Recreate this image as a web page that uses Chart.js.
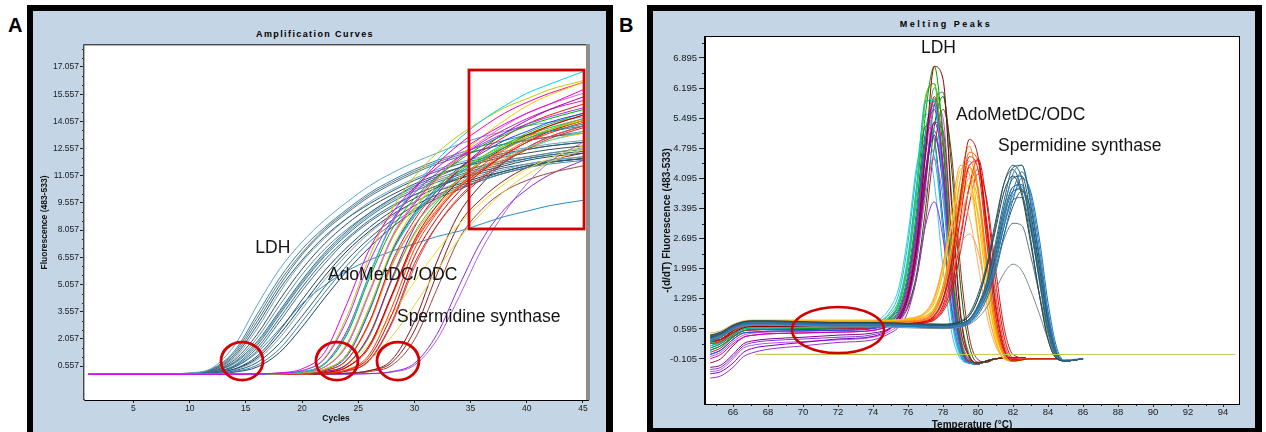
<!DOCTYPE html>
<html>
<head>
<meta charset="utf-8">
<script src="https://cdn.jsdelivr.net/npm/chart.js@4.4.1/dist/chart.umd.min.js"></script>
<style>
  html, body { margin: 0; padding: 0; background: #fff; }
  body { width: 1266px; height: 432px; overflow: hidden; position: relative; font-family: "Liberation Sans", Arial, sans-serif; }
  .frame { position: absolute; box-sizing: border-box; background: #c4d5e6; border-style: solid; border-color: #000; }
  #frameA { left: 27px; top: 5px; width: 586px; height: 450px; border-width: 6px 7px 6px 6px; }
  #frameB { left: 647px; top: 5px; width: 615px; height: 427px; border-width: 6px 7px 4px 6px; }
  canvas { position: absolute; }
  #amp { left: 33px; top: 11px; }
  #melt { left: 653px; top: 11px; }
  .letter { position: absolute; font-weight: bold; font-size: 20px; line-height: 20px; color: #000; }
  .ctitle { position: absolute; font-weight: bold; font-size: 9px; line-height: 10px; letter-spacing: 1.4px; white-space: nowrap; transform: translateX(-50%); color: #000; }
</style>
</head>
<body>
<div class="frame" id="frameA"></div>
<div class="frame" id="frameB"></div>
<div class="letter" style="left:8px;top:15px;">A</div>
<div class="letter" style="left:619px;top:15px;">B</div>
<div class="ctitle" style="left:315px;top:29px;">Amplification Curves</div>
<div class="ctitle" style="left:946px;top:19px;letter-spacing:2.5px;">Melting Peaks</div>
<canvas id="amp" width="573" height="421"></canvas>
<canvas id="melt" width="602" height="421"></canvas>
<script>
const FONT = '"Liberation Sans", Arial, sans-serif';

// ---------- Amplification curves (fluorescence 483-533 vs cycle) ----------
const ampCycles = [1, 6, 10, 12, 14, 16, 18, 20, 22, 24, 26, 28, 30, 32, 34, 36, 38, 40, 42, 45];
const ampXTicks = [5, 10, 15, 20, 25, 30, 35, 40, 45];
const ampYTicks = [0.557, 2.057, 3.557, 5.057, 6.557, 8.057, 9.557, 11.057, 12.557, 14.057, 15.557, 17.057];

const ldhAmp = [
  [0.1,0.1,0.18,0.45,1.7,3.9,5.9,7.4,8.6,9.6,10.5,11.2,11.8,12.3,12.8,13.2,13.5,13.8,14.0,14.3],
  [0.1,0.1,0.16,0.4,1.4,3.4,5.4,7.0,8.2,9.2,10.1,10.8,11.4,11.9,12.3,12.7,13.0,13.3,13.5,13.8],
  [0.1,0.1,0.15,0.35,1.2,3.0,5.0,6.7,8.0,9.0,9.9,10.6,11.2,11.7,12.1,12.5,12.8,13.0,13.2,13.4],
  [0.1,0.1,0.14,0.32,1.1,2.8,4.8,6.4,7.7,8.7,9.5,10.2,10.8,11.3,11.7,12.0,12.3,12.5,12.7,12.9],
  [0.1,0.1,0.14,0.3,1.0,2.6,4.6,6.3,7.6,8.7,9.6,10.3,10.9,11.4,11.8,12.1,12.4,12.6,12.8,13.0],
  [0.1,0.1,0.14,0.28,0.9,2.3,4.2,5.9,7.3,8.4,9.3,10.0,10.6,11.1,11.5,11.8,12.1,12.3,12.5,12.7],
  [0.1,0.1,0.13,0.26,0.75,1.9,3.6,5.3,6.8,8.0,9.0,9.8,10.5,11.0,11.5,11.9,12.2,12.5,12.7,12.9],
  [0.1,0.1,0.13,0.25,0.8,2.1,3.9,5.6,7.0,8.1,9.0,9.8,10.4,10.9,11.3,11.6,11.9,12.1,12.3,12.5],
  [0.1,0.1,0.12,0.22,0.6,1.7,3.4,5.1,6.6,7.8,8.8,9.6,10.2,10.7,11.1,11.5,11.8,12.0,12.2,12.4],
  [0.1,0.1,0.12,0.2,0.5,1.4,3.0,4.7,6.2,7.5,8.5,9.3,10.0,10.5,11.0,11.4,11.7,12.0,12.2,12.4],
  [0.1,0.1,0.12,0.18,0.4,1.1,2.5,4.2,5.8,7.1,8.2,9.1,9.8,10.4,10.9,11.3,11.6,11.9,12.1,12.3],
  [0.1,0.1,0.11,0.16,0.35,0.9,2.1,3.7,5.3,6.7,7.9,8.8,9.6,10.2,10.7,11.1,11.4,11.7,11.9,12.1],
  [0.1,0.1,0.11,0.15,0.3,0.75,1.8,3.3,4.9,6.4,7.6,8.6,9.4,10.0,10.5,10.9,11.3,11.6,11.8,12.0],
  [0.1,0.1,0.11,0.14,0.25,0.6,1.5,3.0,4.6,6.1,7.4,8.4,9.2,9.9,10.4,10.8,11.2,11.5,11.7,11.9],
  [0.1,0.1,0.1,0.13,0.22,0.5,1.3,2.7,4.3,5.8,7.1,8.2,9.1,9.8,10.3,10.8,11.2,11.5,11.8,12.0],
  [0.1,0.1,0.12,0.2,0.5,1.3,2.6,4.0,5.0,5.8,6.4,6.9,7.3,7.7,8.0,8.4,8.8,9.1,9.4,9.7],
  [0.1,0.1,0.15,0.38,1.3,3.2,5.2,6.8,8.1,9.1,10.0,10.7,11.3,11.8,12.2,12.5,12.8,13.0,13.2,13.5],
  [0.1,0.1,0.12,0.21,0.55,1.55,3.2,4.9,6.4,7.6,8.6,9.4,10.0,10.5,10.9,11.2,11.5,11.7,11.9,12.1],
  [0.1,0.1,0.13,0.24,0.7,1.8,3.5,5.2,6.7,7.9,8.9,9.7,10.3,10.8,11.2,11.6,11.9,12.1,12.3,12.6],
  [0.1,0.1,0.11,0.17,0.38,1.0,2.3,3.9,5.5,6.9,8.0,8.9,9.6,10.2,10.6,11.0,11.3,11.6,11.8,12.0]
];
const ldhAmpColors = ['#5aa7cf','#3b7fa6','#4f6f7a','#2d5d73','#6f9fb8','#33505c','#1f6e9c','#5f8d9c',
  '#2a6f96','#46707e','#1b4f6a','#7fa3b5','#2b5a6c','#3d86b3','#26485a','#2f8ac4',
  '#557f8f','#2d6a85','#6e8f99','#183f52'];

const odcAmp = [
  [0.1,0.1,0.1,0.1,0.1,0.12,0.18,0.4,1.3,4.0,7.0,9.0,10.4,11.5,12.4,13.2,13.9,14.5,15.0,15.8],
  [0.1,0.1,0.1,0.1,0.1,0.11,0.16,0.3,0.95,3.1,6.3,8.6,10.1,11.2,12.1,12.8,13.4,13.9,14.3,14.8],
  [0.1,0.1,0.1,0.1,0.1,0.11,0.15,0.24,0.7,2.4,5.6,8.5,10.4,11.9,13.1,14.1,14.9,15.6,16.1,16.8],
  [0.1,0.1,0.1,0.1,0.1,0.11,0.15,0.23,0.65,2.3,5.4,8.1,9.8,11.0,11.9,12.7,13.3,13.8,14.2,14.7],
  [0.1,0.1,0.1,0.1,0.1,0.1,0.14,0.2,0.5,1.7,4.6,7.7,9.6,11.0,12.1,13.0,13.8,14.5,15.0,15.6],
  [0.1,0.1,0.1,0.1,0.1,0.1,0.14,0.2,0.5,1.8,4.7,7.6,9.3,10.5,11.4,12.1,12.7,13.2,13.6,14.1],
  [0.1,0.1,0.1,0.1,0.1,0.1,0.13,0.18,0.38,1.2,3.8,7.0,9.2,10.8,12.1,13.2,14.1,14.9,15.5,16.2],
  [0.1,0.1,0.1,0.1,0.1,0.1,0.13,0.18,0.36,1.2,3.7,6.8,8.8,10.2,11.2,12.0,12.6,13.1,13.5,13.9],
  [0.1,0.1,0.1,0.1,0.1,0.1,0.13,0.18,0.36,1.1,3.6,6.9,9.0,10.4,11.5,12.3,13.0,13.5,14.0,14.5],
  [0.1,0.1,0.1,0.1,0.1,0.1,0.12,0.16,0.3,0.9,3.0,6.3,8.6,10.2,11.4,12.4,13.2,13.9,14.4,15.0],
  [0.1,0.1,0.1,0.1,0.1,0.1,0.12,0.16,0.3,0.9,2.9,6.1,8.3,9.8,10.9,11.8,12.5,13.1,13.6,14.2],
  [0.1,0.1,0.1,0.1,0.1,0.1,0.12,0.15,0.25,0.65,2.3,5.4,8.2,10.0,11.4,12.5,13.4,14.1,14.7,15.4],
  [0.1,0.1,0.1,0.1,0.1,0.1,0.12,0.15,0.25,0.65,2.2,5.3,7.9,9.6,10.9,11.9,12.7,13.4,13.9,14.5],
  [0.1,0.1,0.1,0.1,0.1,0.1,0.11,0.14,0.2,0.5,1.7,4.5,7.5,9.4,10.8,11.8,12.6,13.3,13.8,14.4],
  [0.1,0.1,0.1,0.1,0.1,0.1,0.11,0.14,0.2,0.5,1.6,4.4,7.3,9.1,10.4,11.4,12.2,12.9,13.4,14.0],
  [0.1,0.1,0.1,0.1,0.1,0.1,0.11,0.13,0.18,0.35,1.2,3.8,7.0,9.0,10.5,11.6,12.5,13.2,13.8,14.4],
  [0.1,0.1,0.1,0.1,0.1,0.1,0.11,0.13,0.17,0.32,1.05,3.4,6.6,8.7,10.2,11.3,12.2,12.9,13.5,14.1],
  [0.1,0.1,0.1,0.1,0.1,0.11,0.15,0.24,0.7,2.5,5.6,8.4,10.3,11.7,12.8,13.7,14.5,15.1,15.6,16.2],
  [0.1,0.1,0.1,0.1,0.1,0.11,0.16,0.3,1.0,3.3,6.6,9.2,11.0,12.3,13.3,14.1,14.8,15.3,15.8,16.3],
  [0.1,0.1,0.1,0.1,0.1,0.1,0.12,0.16,0.3,0.9,3.0,6.2,8.3,9.7,10.7,11.5,12.1,12.6,13.0,13.5],
  [0.1,0.1,0.1,0.1,0.1,0.1,0.11,0.14,0.18,0.28,0.9,3.0,6.2,8.3,9.8,10.9,11.8,12.5,13.1,13.7],
  [0.1,0.1,0.1,0.1,0.1,0.1,0.12,0.15,0.25,0.65,2.3,5.3,7.8,9.4,10.5,11.3,12.0,12.5,13.0,13.4],
  [0.1,0.1,0.1,0.1,0.1,0.1,0.11,0.14,0.22,0.6,1.8,3.4,5.2,6.9,8.4,9.6,10.6,11.4,12.0,12.7],
  [0.1,0.1,0.1,0.1,0.1,0.1,0.1,0.12,0.18,0.35,0.9,2.2,3.9,5.8,7.6,9.0,10.2,11.1,11.8,12.5],
  [0.1,0.1,0.1,0.1,0.1,0.1,0.11,0.13,0.16,0.28,0.85,2.9,6.0,8.3,9.9,11.0,11.9,12.6,13.2,13.8],
  [0.1,0.1,0.1,0.1,0.1,0.1,0.13,0.18,0.37,1.2,3.8,6.9,8.9,10.3,11.3,12.1,12.8,13.3,13.7,14.2],
  [0.1,0.1,0.1,0.1,0.1,0.1,0.14,0.2,0.5,1.7,4.6,7.6,9.5,10.9,12.0,12.9,13.6,14.2,14.7,15.2],
  [0.1,0.1,0.1,0.1,0.1,0.1,0.11,0.14,0.2,0.5,1.7,4.5,7.4,9.2,10.5,11.5,12.3,13.0,13.5,14.1]
];
const odcAmpColors = ['#e600e6','#9b30ff','#00d8e8','#00b000','#ff5cc8','#7fdc00','#f0d000','#00a0a0',
  '#2040ff','#ff1010','#ff8000','#a000c0','#30c030','#c00000','#ff2020','#ff4000',
  '#e00000','#ff00a0','#c8c800','#40e0d0','#b03030','#ffa000','#f2e030','#e8d44a',
  '#ff4040','#00c060','#d020a0','#ff7020'];

const spdAmp = [
  [0.1,0.1,0.1,0.1,0.1,0.1,0.1,0.11,0.13,0.16,0.3,0.75,2.5,5.6,8.4,9.8,10.8,11.5,11.9,12.3],
  [0.1,0.1,0.1,0.1,0.1,0.1,0.1,0.1,0.12,0.14,0.25,0.6,2.0,4.8,7.6,9.2,10.2,10.8,11.2,11.6],
  [0.1,0.1,0.1,0.1,0.1,0.1,0.1,0.11,0.13,0.16,0.3,0.9,3.0,6.3,9.0,10.6,11.8,12.6,13.2,13.8],
  [0.1,0.1,0.1,0.1,0.1,0.1,0.1,0.1,0.1,0.11,0.14,0.25,0.7,2.3,5.0,7.5,9.2,10.3,11.1,11.9],
  [0.1,0.1,0.1,0.1,0.1,0.1,0.1,0.1,0.1,0.11,0.13,0.22,0.6,2.0,4.4,7.0,9.0,10.6,11.8,12.9]
];
const spdAmpColors = ['#8b2020','#9a4a3a','#7a1a1a','#8a2be2','#b060e0'];

// ---------- Melting peaks (-(d/dT) fluorescence vs temperature) ----------
const meltXTicks = [66, 68, 70, 72, 74, 76, 78, 80, 82, 84, 86, 88, 90, 92, 94];
const meltYTicks = [-0.105, 0.595, 1.295, 1.995, 2.695, 3.395, 4.095, 4.795, 5.495, 6.195, 6.895];

const ldhTemps = [64.7,65.3,66,66.6,67.2,68,70,72,74,75,75.5,76,76.5,77,77.5,78,78.5,79,79.5,80,80.5,81,82,82.7];
const ldhMelt = [
  [0.3,0.35,0.5,0.62,0.65,0.65,0.65,0.66,0.68,0.75,0.9,1.4,2.6,4.7,6.7,6.4,3.4,0.9,-0.05,-0.2,-0.15,-0.1,-0.08,-0.08],
  [0.1,0.2,0.4,0.55,0.58,0.58,0.6,0.62,0.66,0.85,1.1,1.9,3.4,5.6,6.7,5.0,2.0,0.3,-0.15,-0.2,-0.15,-0.1,-0.08,-0.08],
  [0.2,0.3,0.5,0.6,0.62,0.62,0.62,0.64,0.7,0.95,1.3,2.3,4.0,5.9,5.9,3.9,1.3,0.1,-0.2,-0.22,-0.15,-0.1,-0.08,-0.08],
  [-0.1,0.0,0.25,0.4,0.45,0.48,0.5,0.52,0.56,0.72,0.95,1.6,2.9,4.8,5.9,4.4,1.7,0.2,-0.18,-0.22,-0.15,-0.1,-0.08,-0.08],
  [-0.45,-0.4,-0.2,0.05,0.15,0.2,0.28,0.36,0.42,0.6,0.8,1.3,2.4,4.2,5.4,4.4,1.9,0.3,-0.15,-0.22,-0.15,-0.1,-0.08,-0.08],
  [-0.55,-0.5,-0.3,-0.05,0.05,0.12,0.2,0.28,0.34,0.5,0.65,1.0,1.8,3.0,3.55,2.7,1.1,0.1,-0.2,-0.22,-0.15,-0.1,-0.08,-0.08],
  [0.0,0.1,0.35,0.5,0.52,0.54,0.55,0.56,0.6,0.78,1.0,1.7,3.1,5.0,5.7,4.1,1.5,0.15,-0.2,-0.22,-0.15,-0.1,-0.08,-0.08],
  [0.25,0.3,0.5,0.62,0.64,0.64,0.64,0.65,0.7,0.9,1.25,2.2,3.9,6.0,6.3,4.4,1.6,0.15,-0.2,-0.22,-0.15,-0.1,-0.08,-0.08],
  [0.05,0.15,0.4,0.55,0.57,0.58,0.58,0.6,0.62,0.75,0.9,1.5,2.7,4.6,6.0,4.8,2.0,0.35,-0.12,-0.2,-0.15,-0.1,-0.08,-0.08],
  [0.15,0.25,0.45,0.6,0.62,0.62,0.62,0.62,0.66,0.82,1.05,1.8,3.2,5.2,5.8,4.0,1.4,0.1,-0.2,-0.22,-0.15,-0.1,-0.08,-0.08],
  [-0.3,-0.25,0.0,0.25,0.32,0.36,0.4,0.45,0.5,0.62,0.82,1.35,2.5,4.2,5.1,3.9,1.5,0.2,-0.18,-0.22,-0.15,-0.1,-0.08,-0.08],
  [0.1,0.2,0.4,0.55,0.58,0.58,0.6,0.6,0.66,0.9,1.2,2.1,3.6,4.9,4.6,2.9,0.9,0.0,-0.2,-0.22,-0.15,-0.1,-0.08,-0.08],
  [0.3,0.35,0.55,0.65,0.67,0.67,0.67,0.68,0.7,0.8,0.95,1.5,2.8,4.8,6.2,5.2,2.3,0.45,-0.1,-0.2,-0.15,-0.1,-0.08,-0.08],
  [-0.4,-0.35,-0.1,0.15,0.22,0.26,0.3,0.34,0.4,0.55,0.72,1.2,2.2,3.7,4.55,3.6,1.4,0.2,-0.15,-0.2,-0.15,-0.1,-0.08,-0.08],
  [0.2,0.28,0.48,0.6,0.62,0.62,0.62,0.63,0.67,0.8,1.0,1.7,3.0,5.0,5.95,4.3,1.6,0.2,-0.18,-0.22,-0.15,-0.1,-0.08,-0.08],
  [-0.2,-0.1,0.2,0.4,0.45,0.48,0.5,0.52,0.56,0.68,0.82,1.3,2.3,4.0,5.4,5.2,2.6,0.6,-0.05,-0.2,-0.15,-0.1,-0.08,-0.08],
  [0.2,0.28,0.48,0.6,0.62,0.62,0.62,0.64,0.72,1.0,1.45,2.6,4.3,5.6,5.0,2.9,0.8,-0.05,-0.2,-0.22,-0.15,-0.1,-0.08,-0.08],
  [0.15,0.25,0.45,0.58,0.6,0.6,0.62,0.65,0.75,1.1,1.6,2.8,4.4,5.0,4.0,2.0,0.5,-0.1,-0.2,-0.22,-0.15,-0.1,-0.08,-0.08],
  [0.25,0.3,0.5,0.6,0.62,0.62,0.62,0.63,0.65,0.72,0.82,1.15,1.9,3.4,5.3,6.0,4.3,1.6,0.2,-0.18,-0.18,-0.1,-0.08,-0.08],
  [0.1,0.2,0.42,0.55,0.57,0.58,0.58,0.6,0.62,0.7,0.8,1.1,1.8,3.1,4.8,5.7,4.6,2.0,0.4,-0.12,-0.18,-0.1,-0.08,-0.08],
  [0.3,0.35,0.55,0.64,0.66,0.66,0.66,0.67,0.7,0.88,1.2,2.1,3.8,5.9,6.3,4.2,1.5,0.1,-0.2,-0.22,-0.15,-0.1,-0.08,-0.08],
  [-0.35,-0.3,-0.05,0.2,0.28,0.32,0.36,0.4,0.46,0.62,0.85,1.45,2.6,4.3,5.2,4.0,1.5,0.15,-0.18,-0.22,-0.15,-0.1,-0.08,-0.08],
  [-0.05,0.05,0.3,0.45,0.5,0.52,0.54,0.56,0.6,0.7,0.85,1.3,2.3,4.1,5.8,5.5,2.7,0.6,-0.05,-0.2,-0.15,-0.1,-0.08,-0.08],
  [0.0,0.1,0.35,0.5,0.52,0.54,0.55,0.57,0.62,0.85,1.2,2.2,3.9,5.3,5.0,3.1,1.0,0.0,-0.2,-0.22,-0.15,-0.1,-0.08,-0.08],
  [0.28,0.33,0.52,0.63,0.65,0.65,0.65,0.66,0.68,0.76,0.88,1.3,2.2,3.9,5.8,6.1,3.6,1.0,0.0,-0.2,-0.15,-0.1,-0.08,-0.08]
];
const ldhMeltColors = ['#8b0000','#00a000','#00c8d8','#d000d0','#8000c0','#9932cc','#2050e0','#60d000',
  '#c0104a','#008080','#8b008b','#30a0ff','#20b050','#c050e0','#80a000','#a01030',
  '#00d0a0','#40c0ff','#006400','#b22222','#40a040','#7b3fd0','#e040e0','#1040c0','#3a7d3a'];

const odcTemps = [64.7,65.3,66,66.6,67.2,68,70,72,74,76,77,77.5,78,78.5,79,79.5,80,80.5,81,81.5,82,83,84.5];
const odcMelt = [
  [0.3,0.35,0.55,0.68,0.7,0.7,0.7,0.7,0.7,0.72,0.78,0.9,1.3,2.2,3.7,5.0,4.6,2.9,1.1,0.1,-0.15,-0.1,-0.1],
  [0.4,0.45,0.62,0.74,0.76,0.76,0.76,0.76,0.76,0.78,0.85,1.05,1.6,2.7,4.1,4.85,3.8,2.0,0.6,-0.05,-0.15,-0.1,-0.1],
  [0.3,0.36,0.55,0.68,0.7,0.7,0.7,0.7,0.7,0.72,0.76,0.85,1.15,1.9,3.2,4.4,4.5,3.0,1.2,0.15,-0.12,-0.1,-0.1],
  [0.4,0.45,0.65,0.76,0.78,0.78,0.78,0.78,0.78,0.82,0.95,1.2,1.9,3.1,4.3,4.4,3.2,1.6,0.4,-0.1,-0.15,-0.1,-0.1],
  [0.35,0.4,0.6,0.72,0.74,0.74,0.74,0.74,0.74,0.76,0.82,0.98,1.45,2.4,3.6,4.35,3.8,2.2,0.75,0.0,-0.15,-0.1,-0.1],
  [0.45,0.5,0.66,0.76,0.78,0.78,0.78,0.78,0.78,0.8,0.88,1.05,1.5,2.3,3.4,4.1,3.6,2.1,0.7,0.0,-0.15,-0.1,-0.1],
  [0.25,0.3,0.5,0.65,0.68,0.68,0.68,0.68,0.68,0.7,0.75,0.88,1.25,2.1,3.5,4.6,4.3,2.6,0.9,0.05,-0.15,-0.1,-0.1],
  [0.42,0.48,0.65,0.75,0.77,0.77,0.77,0.77,0.77,0.8,0.9,1.1,1.6,2.5,3.5,3.95,3.2,1.7,0.5,-0.05,-0.15,-0.1,-0.1],
  [0.4,0.45,0.6,0.7,0.72,0.72,0.72,0.72,0.72,0.74,0.8,0.95,1.3,1.9,2.55,2.8,2.4,1.4,0.5,0.0,-0.12,-0.1,-0.1],
  [0.38,0.43,0.62,0.73,0.75,0.75,0.75,0.75,0.75,0.77,0.84,1.0,1.5,2.5,3.8,4.5,3.9,2.2,0.7,0.0,-0.15,-0.1,-0.1],
  [0.5,0.55,0.7,0.78,0.8,0.8,0.8,0.8,0.8,0.82,0.9,1.05,1.45,2.2,3.1,3.75,3.3,1.9,0.6,0.0,-0.12,-0.1,-0.1],
  [0.3,0.35,0.55,0.68,0.7,0.7,0.7,0.7,0.7,0.72,0.76,0.84,1.1,1.7,2.8,3.9,4.3,3.1,1.4,0.25,-0.1,-0.1,-0.1],
  [0.4,0.45,0.64,0.75,0.77,0.77,0.77,0.77,0.77,0.82,0.98,1.3,2.1,3.4,4.4,4.2,2.8,1.2,0.3,-0.1,-0.15,-0.1,-0.1],
  [0.3,0.35,0.55,0.68,0.7,0.7,0.7,0.7,0.7,0.72,0.75,0.82,1.05,1.6,2.7,3.9,4.55,3.5,1.7,0.4,-0.08,-0.1,-0.1],
  [0.45,0.5,0.66,0.76,0.78,0.78,0.78,0.78,0.78,0.82,0.96,1.25,1.95,3.05,3.95,3.9,2.7,1.2,0.3,-0.1,-0.15,-0.1,-0.1],
  [0.35,0.4,0.58,0.7,0.72,0.72,0.72,0.72,0.72,0.74,0.8,0.92,1.3,2.2,3.6,4.7,4.5,2.7,0.9,0.05,-0.15,-0.1,-0.1],
  [0.45,0.5,0.66,0.76,0.78,0.78,0.78,0.78,0.78,0.84,1.0,1.35,2.1,3.0,3.5,3.2,2.1,0.9,0.2,-0.1,-0.15,-0.1,-0.1],
  [0.3,0.35,0.55,0.68,0.7,0.7,0.7,0.7,0.7,0.71,0.74,0.8,1.0,1.45,2.4,3.5,4.2,3.6,2.0,0.6,0.0,-0.1,-0.1]
];
const odcMeltColors = ['#b01010','#ff8c00','#ff0000','#ffc000','#ff6a00','#ffa040','#e02020','#ffd800',
  '#f0a070','#ff7f24','#e8b060','#ff3030','#ff9a20','#f00000','#ffe040','#ff5a00','#ffb060','#c81e1e'];

const spdTemps = [64.7,65.3,66,66.6,67.2,68,70,72,74,76,78,79,79.5,80,80.5,81,81.5,82,82.5,83,83.5,84,84.5,85,86];
const spdMelt = [
  [0.4,0.48,0.65,0.74,0.76,0.76,0.74,0.72,0.72,0.7,0.68,0.72,0.82,1.15,1.7,2.6,3.6,4.35,4.4,3.5,2.2,0.8,0.0,-0.15,-0.1],
  [0.3,0.4,0.6,0.7,0.72,0.72,0.7,0.68,0.68,0.66,0.62,0.66,0.74,0.98,1.4,2.1,3.0,3.8,4.25,3.7,2.5,1.0,0.05,-0.15,-0.1],
  [0.45,0.52,0.68,0.76,0.78,0.78,0.76,0.74,0.74,0.72,0.7,0.76,0.9,1.3,2.0,2.9,3.8,4.15,3.7,2.6,1.4,0.35,-0.1,-0.15,-0.1],
  [0.35,0.45,0.62,0.72,0.74,0.74,0.72,0.7,0.7,0.68,0.65,0.7,0.8,1.1,1.6,2.4,3.3,3.9,3.95,3.1,1.9,0.65,-0.05,-0.15,-0.1],
  [0.4,0.48,0.65,0.74,0.76,0.76,0.74,0.72,0.72,0.7,0.67,0.72,0.82,1.1,1.55,2.3,3.2,3.8,3.85,3.0,1.8,0.6,-0.05,-0.15,-0.1],
  [0.3,0.4,0.6,0.7,0.72,0.72,0.7,0.68,0.68,0.66,0.63,0.68,0.78,1.05,1.55,2.4,3.4,4.2,4.4,3.6,2.3,0.85,0.0,-0.15,-0.1],
  [0.42,0.5,0.66,0.74,0.76,0.76,0.74,0.72,0.72,0.7,0.68,0.72,0.8,1.05,1.5,2.2,3.0,3.6,3.65,2.9,1.8,0.6,-0.05,-0.15,-0.1],
  [0.4,0.48,0.63,0.72,0.74,0.74,0.72,0.7,0.7,0.68,0.66,0.7,0.78,1.0,1.4,2.0,2.7,3.05,3.0,2.3,1.4,0.5,-0.05,-0.15,-0.1],
  [0.35,0.42,0.58,0.66,0.68,0.68,0.66,0.64,0.64,0.62,0.6,0.64,0.7,0.85,1.1,1.5,1.9,2.1,1.95,1.5,0.95,0.35,-0.05,-0.12,-0.1],
  [0.38,0.46,0.64,0.73,0.75,0.75,0.73,0.71,0.71,0.69,0.66,0.71,0.82,1.12,1.65,2.5,3.45,4.1,4.15,3.3,2.05,0.72,-0.05,-0.15,-0.1],
  [0.42,0.5,0.66,0.75,0.77,0.77,0.75,0.73,0.73,0.71,0.7,0.78,0.95,1.4,2.1,3.1,4.0,4.3,3.8,2.7,1.4,0.35,-0.1,-0.15,-0.1],
  [0.32,0.42,0.6,0.7,0.72,0.72,0.7,0.68,0.68,0.66,0.62,0.65,0.72,0.92,1.3,1.9,2.8,3.6,4.1,3.8,2.7,1.2,0.15,-0.15,-0.1],
  [0.4,0.48,0.65,0.74,0.76,0.76,0.74,0.72,0.72,0.7,0.67,0.72,0.82,1.1,1.6,2.4,3.3,3.9,3.95,3.1,1.9,0.65,-0.05,-0.15,-0.1],
  [0.3,0.4,0.58,0.68,0.7,0.7,0.68,0.66,0.66,0.64,0.61,0.66,0.75,1.0,1.45,2.2,3.1,3.7,3.9,3.2,2.0,0.75,0.0,-0.15,-0.1],
  [0.44,0.5,0.67,0.76,0.78,0.78,0.76,0.74,0.74,0.72,0.7,0.76,0.9,1.3,2.0,3.0,4.0,4.4,4.1,3.0,1.7,0.5,-0.08,-0.15,-0.1],
  [0.36,0.44,0.62,0.72,0.74,0.74,0.72,0.7,0.7,0.68,0.64,0.68,0.76,0.98,1.4,2.0,2.8,3.45,3.8,3.4,2.3,0.95,0.05,-0.15,-0.1]
];
const spdMeltColors = ['#2f5f6f','#1f78c8','#1e4a50','#3a7ca5','#0f5a6e','#2a8ad4','#4a6a78','#607880',
  '#808890','#185060','#23566a','#1a6fb0','#2e4f57','#3b8fd0','#335c6b','#1c5e82'];

const flatTemps = [67.3, 94.7];
const flatMelt = [0.0, 0.0];
const stubTemps = [67.3, 73.7];
const stubMelt = [0.0, 0.0];

// ---------- helpers ----------
function series(xs, ys, color) {
  return {
    data: xs.map((x, i) => ({ x: x, y: ys[i] })),
    borderColor: color, borderWidth: 1, pointRadius: 0, fill: false,
    cubicInterpolationMode: 'monotone'
  };
}
function group(xs, rows, colors) {
  return rows.map((r, i) => series(xs, r, colors[i % colors.length]));
}

// decoration per canvas: callouts, labels, frames
const decor = {
  amp: {
    frame: 'sunken',
    minorY: { step: 0.5, per: 3, len: 2 },
    markWidth: 2.8,
    ellipses: [ { x: 14.66, y: 0.83, rx: 21, ry: 19 }, { x: 23.11, y: 0.83, rx: 21, ry: 19 }, { x: 28.54, y: 0.83, rx: 21, ry: 19 } ],
    boxes: [ { x0: 34.86, x1: 45.1, y0: 8.12, y1: 16.89 } ],
    labels: [ { text: 'LDH', x: 15.84, y: 7.07 }, { text: 'AdoMetDC/ODC', x: 22.31, y: 5.58 }, { text: 'Spermidine synthase', x: 28.45, y: 3.26 } ],
    ticks: ampYTicks
  },
  melt: {
    frame: 'box',
    minorY: { step: 0.35, per: 2, len: 3 },
    minorX: [65, 67, 69, 71, 73, 75, 77, 79, 81, 83, 85, 87, 89, 91, 93],
    markWidth: 2.5,
    ellipses: [ { x: 72.0, y: 0.569, rx: 46, ry: 23 } ],
    boxes: [],
    labels: [ { text: 'LDH', x: 76.74, y: 7.127 }, { text: 'AdoMetDC/ODC', x: 78.74, y: 5.569 }, { text: 'Spermidine synthase', x: 81.14, y: 4.848 } ],
    ticks: meltYTicks
  }
};

const overlay = {
  id: 'overlay',
  beforeDraw(chart) {
    const { ctx, chartArea: a } = chart;
    const d = decor[chart.canvas.id];
    ctx.save();
    ctx.fillStyle = '#fff';
    const w = d.frame === 'sunken' ? a.right - a.left - 2 : a.right - a.left;
    ctx.fillRect(a.left, a.top, w, a.bottom - a.top);
    ctx.restore();
  },
  afterDraw(chart) {
    const { ctx, chartArea: a, scales } = chart;
    const x = scales.x, y = scales.y;
    const d = decor[chart.canvas.id];
    ctx.save();
    // minor tick marks
    ctx.strokeStyle = '#222';
    ctx.lineWidth = 1;
    ctx.beginPath();
    d.ticks.forEach(t => {
      for (let k = 1; k < d.minorY.per; k++) {
        const v = t + k * d.minorY.step;
        if (v > y.max) continue;
        const py = Math.round(y.getPixelForValue(v)) + 0.5;
        ctx.moveTo(a.left - d.minorY.len, py); ctx.lineTo(a.left, py);
      }
    });
    (d.minorX || []).forEach(v => {
      const px = Math.round(x.getPixelForValue(v)) + 0.5;
      ctx.moveTo(px, a.bottom); ctx.lineTo(px, a.bottom + 2);
    });
    ctx.stroke();
    // plot frame
    if (d.frame === 'sunken') {
      ctx.strokeStyle = '#4a4a4a';
      ctx.beginPath();
      ctx.moveTo(a.left - 0.5, a.bottom); ctx.lineTo(a.left - 0.5, a.top - 0.5); ctx.lineTo(a.right - 2, a.top - 0.5);
      ctx.stroke();
      ctx.strokeStyle = '#b0b0b0';
      ctx.beginPath();
      ctx.moveTo(a.left + 0.5, a.bottom - 1); ctx.lineTo(a.left + 0.5, a.top + 0.5); ctx.lineTo(a.right - 2, a.top + 0.5);
      ctx.stroke();
      ctx.fillStyle = '#8e8e8e';
      ctx.fillRect(a.right - 2, a.top - 1, 4, a.bottom - a.top + 1);
    } else {
      ctx.strokeStyle = '#000';
      ctx.strokeRect(a.left - 0.5, a.top - 0.5, a.right - a.left + 1, a.bottom - a.top + 1);
    }
    // red callouts
    ctx.strokeStyle = '#d20000';
    ctx.lineWidth = d.markWidth;
    d.ellipses.forEach(e => {
      ctx.beginPath();
      ctx.ellipse(x.getPixelForValue(e.x), y.getPixelForValue(e.y), e.rx, e.ry, 0, 0, Math.PI * 2);
      ctx.stroke();
    });
    d.boxes.forEach(b => {
      const l = x.getPixelForValue(b.x0), r = x.getPixelForValue(b.x1);
      const t = y.getPixelForValue(b.y1), bt = y.getPixelForValue(b.y0);
      ctx.strokeRect(l, t, r - l, bt - t);
    });
    // gene labels
    ctx.fillStyle = '#141414';
    ctx.font = '17.5px ' + FONT;
    ctx.textAlign = 'left';
    ctx.textBaseline = 'middle';
    d.labels.forEach(l => ctx.fillText(l.text, x.getPixelForValue(l.x), y.getPixelForValue(l.y)));
    ctx.restore();
  }
};

function axis(opts) {
  return {
    type: 'linear', min: opts.min, max: opts.max,
    afterBuildTicks: s => { s.ticks = opts.ticks.map(v => ({ value: v })); },
    afterFit: s => { if (opts.width) s.width = opts.width; if (opts.height) s.height = opts.height; },
    grid: { drawOnChartArea: false, drawTicks: true, tickLength: opts.tickLength, color: '#222' },
    border: { display: true, color: opts.borderColor || '#000', width: 1 },
    ticks: { autoSkip: false, maxRotation: 0, minRotation: 0, padding: opts.pad, color: '#1a1a1a',
             font: { family: FONT, size: opts.fontSize }, callback: opts.fmt },
    title: { display: true, text: opts.title, color: '#111',
             font: { family: FONT, size: opts.titleSize, weight: 'bold' }, padding: opts.titlePad }
  };
}

Chart.defaults.animation = false;

new Chart(document.getElementById('amp'), {
  type: 'line',
  data: { datasets: [].concat(group(ampCycles, odcAmp, odcAmpColors), group(ampCycles, ldhAmp, ldhAmpColors), group(ampCycles, spdAmp, spdAmpColors)) },
  options: {
    responsive: false, animation: false, devicePixelRatio: 1,
    layout: { padding: { top: 34, right: 18, left: 0, bottom: 0 } },
    plugins: { legend: { display: false }, tooltip: { enabled: false } },
    scales: {
      x: axis({ min: 0.6, max: 45.45, ticks: ampXTicks, height: 32, tickLength: 3, pad: 1, fontSize: 8.5,
                fmt: v => String(v), title: 'Cycles', titleSize: 8.5, titlePad: { top: 0, bottom: 8 } }),
      y: axis({ min: -1.318, max: 18.27, ticks: ampYTicks, width: 51, tickLength: 4, pad: 1, fontSize: 8.5, borderColor: '#4a4a4a',
                fmt: v => Number(v).toFixed(3), title: 'Fluorescence (483-533)', titleSize: 8.5, titlePad: { top: 7, bottom: 0 } })
    }
  },
  plugins: [overlay]
});

new Chart(document.getElementById('melt'), {
  type: 'line',
  data: { datasets: [].concat(
    [series(flatTemps, flatMelt, '#c8c850')],
    group(spdTemps, spdMelt, spdMeltColors),
    group(odcTemps, odcMelt, odcMeltColors),
    [series(stubTemps, stubMelt, '#8b3a1a')],
    group(ldhTemps, ldhMelt, ldhMeltColors)) },
  options: {
    responsive: false, animation: false, devicePixelRatio: 1,
    layout: { padding: { top: 26, right: 16, left: 0, bottom: 0 } },
    plugins: { legend: { display: false }, tooltip: { enabled: false } },
    scales: {
      x: axis({ min: 64.4, max: 94.91, ticks: meltXTicks, height: 28, tickLength: 3, pad: 0, fontSize: 9.5,
                fmt: v => String(v), title: 'Temperature (°C)', titleSize: 10, titlePad: { top: 0, bottom: 1 } }),
      y: axis({ min: -1.152, max: 7.383, ticks: meltYTicks, width: 52, tickLength: 6, pad: 2, fontSize: 9.5,
                fmt: v => Number(v).toFixed(3), title: '-(d/dT) Fluorescence (483-533)', titleSize: 10, titlePad: { top: 8, bottom: 0 } })
    }
  },
  plugins: [overlay]
});
</script>
</body>
</html>
